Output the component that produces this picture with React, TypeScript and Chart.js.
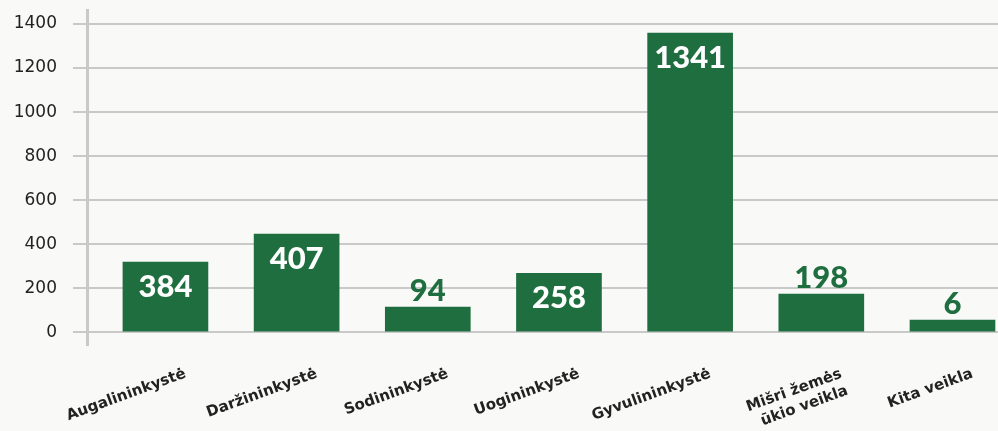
import React, { useEffect, useRef } from "react";
import { Chart, registerables } from "chart.js";

Chart.register(...registerables);

const categories: (string | string[])[] = [
  "Augalininkystė",
  "Daržininkystė",
  "Sodininkystė",
  "Uogininkystė",
  "Gyvulininkystė",
  ["Mišri žemės", "ūkio veikla"],
  "Kita veikla",
];
// bar heights as drawn in the picture
const barValues = [319, 446, 115, 268, 1359, 174, 56];
// numbers printed on the bars
const valueLabels = ["384", "407", "94", "258", "1341", "198", "6"];
const yTicks = [0, 200, 400, 600, 800, 1000, 1200, 1400];

const GREEN = "#1f6e3f";
const GRID = "#c9c9c9";
const TEXT = "#222222";
const BG = "#f9f9f7";

const valueLabelPlugin = {
  id: "valueLabels",
  afterDatasetsDraw(chart: any) {
    const ctx = chart.ctx;
    const meta = chart.getDatasetMeta(0);
    ctx.save();
    ctx.font = "900 31px Lato";
    ctx.textAlign = "center";
    ctx.textBaseline = "middle";
    meta.data.forEach((bar: any, i: number) => {
      const h = bar.base - bar.y;
      const inside = h > 50;
      ctx.fillStyle = inside ? "#ffffff" : GREEN;
      const y = inside ? bar.y + 25 : bar.y - 16;
      ctx.fillText(valueLabels[i], bar.x, y);
    });
    ctx.restore();
  },
};

const bgPlugin = {
  id: "bg",
  beforeDraw(chart: any) {
    const ctx = chart.ctx;
    ctx.save();
    ctx.fillStyle = BG;
    ctx.fillRect(0, 0, chart.width, chart.height);
    ctx.restore();
  },
};

export default function App() {
  const ref = useRef<HTMLCanvasElement | null>(null);

  useEffect(() => {
    document.body.style.margin = "0";
    document.body.style.background = BG;
    const canvas = ref.current;
    if (!canvas) return;
    const chart = new Chart(canvas, {
      type: "bar",
      data: {
        datasets: [
          {
            data: barValues.map((v, i) => ({ x: i, y: v })),
            backgroundColor: GREEN,
            barThickness: 85,
          },
        ],
      },
      options: {
        responsive: false,
        animation: false,
        layout: { padding: { top: 10, left: 0, right: 0, bottom: 0 } },
        plugins: {
          legend: { display: false },
          tooltip: { enabled: false },
        },
        scales: {
          x: {
            type: "linear",
            offset: false,
            min: -0.598,
            max: 6.347,
            afterBuildTicks: (axis: any) => {
              axis.ticks = categories.map((_, i) => ({ value: i }));
            },
            afterFit: (axis: any) => {
              axis.height = 86;
              axis.paddingLeft = 0;
              axis.paddingRight = 0;
              axis.paddingTop = 0;
              axis.paddingBottom = 0;
            },
            grid: { display: false, drawTicks: false },
            border: { display: false },
            ticks: {
              autoSkip: false,
              minRotation: 20,
              maxRotation: 20,
              labelOffset: 20,
              padding: 20,
              color: TEXT,
              font: { family: "DejaVu Sans", size: 15, weight: "bold" },
              callback: (v: any) => categories[Math.round(Number(v))] as any,
            },
          },
          y: {
            type: "linear",
            min: -57.7,
            max: 1463.6,
            afterBuildTicks: (axis: any) => {
              axis.ticks = yTicks.map((v) => ({ value: v }));
            },
            afterFit: (axis: any) => {
              axis.width = 87;
              axis.paddingLeft = 0;
              axis.paddingRight = 0;
              axis.paddingTop = 0;
              axis.paddingBottom = 0;
            },
            grid: {
              color: GRID,
              lineWidth: 2,
              tickLength: 14,
              drawTicks: true,
            },
            border: { display: true, color: GRID, width: 3 },
            ticks: {
              padding: 16,
              color: TEXT,
              font: { family: "DejaVu Sans", size: 17 },
              callback: (v: any) => String(v),
            },
          },
        },
      },
      plugins: [bgPlugin, valueLabelPlugin],
    } as any);
    return () => chart.destroy();
  }, []);

  return (
    <div style={{ width: 998, height: 431, background: BG }}>
      <canvas ref={ref} width={998} height={431} style={{ display: "block" }} />
    </div>
  );
}
